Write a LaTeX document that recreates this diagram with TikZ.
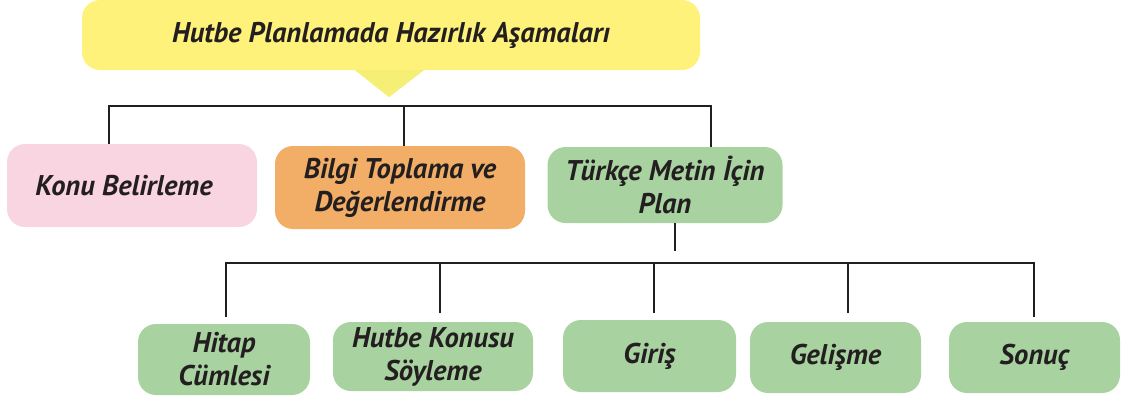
\documentclass[tikz,border=0pt]{standalone}
\usepackage{fontspec}
\setmainfont{PT Sans}
\definecolor{titlecol}{HTML}{FEF27B}
\definecolor{tipcol}{HTML}{F6EF76}
\definecolor{pinkcol}{HTML}{F9D5E1}
\definecolor{orangecol}{HTML}{F2AD66}
\definecolor{greencol}{HTML}{A8D2A0}
\definecolor{wirecol}{HTML}{231F20}
\newcommand{\stagefont}{\fontsize{28.5}{33}\selectfont\bfseries\itshape}
\tikzset{
	stage/.style={rounded corners=18pt, align=center, font=\stagefont, inner sep=0pt, text=wirecol},
	wire/.style={line width=2.8pt, draw=wirecol}
}

\begin{document}
\begin{tikzpicture}[x=1pt,y=-1pt]
		\useasboundingbox (0,0) rectangle (1122,397);
		\draw (391,35) node[stage, fill=titlecol, minimum width=618, minimum height=70](title){Hutbe Planlamada Hazırlık Aşamaları};
		\fill[tipcol] ([xshift=-36pt]title.south) -- ([xshift=33pt]title.south) -- ([xshift=-2pt, yshift=-27pt]title.south) -- cycle;
		\draw (132,185.5) node[stage, fill=pinkcol, minimum width=250, minimum height=83](konu){Konu Belirleme\hspace*{16pt}};
		\draw (400,187.5) node[stage, fill=orangecol, minimum width=250, minimum height=83](bilgi){Bilgi Toplama ve\\Değerlendirme};
		\draw (665,185) node[stage, fill=greencol, minimum width=235, minimum height=76](plan){Türkçe Metin İçin\\Plan};
		\coordinate (busA) at (109,106);
		\coordinate (busB) at (404,106);
		\coordinate (busC) at (711,106);
		\draw[wire] (busA |- konu.north) -- (busA) -- (busC) -- (busC |- plan.north);
		\draw[wire] (busB) -- (busB |- bilgi.north);
		\draw (224,359.5) node[stage, fill=greencol, minimum width=172, minimum height=71](hitap){Hitap\\Cümlesi};
		\draw (433,356.5) node[stage, fill=greencol, minimum width=200, minimum height=69](konusu){Hutbe Konusu\\Söyleme};
		\draw (649.5,356) node[stage, fill=greencol, minimum width=173, minimum height=72](giris){Giriş};
		\draw (835.5,357.5) node[stage, fill=greencol, minimum width=171, minimum height=71](gelisme){Gelişme};
		\draw (1034.5,357.5) node[stage, fill=greencol, minimum width=171, minimum height=71](sonuc){Sonuç};
		\coordinate (stem) at (675,251);
		\coordinate (subA) at (226,263);
		\coordinate (subB) at (440,263);
		\coordinate (subC) at (654,263);
		\coordinate (subD) at (848,263);
		\coordinate (subE) at (1034,263);
		\draw[wire] (plan.south -| stem) -- (stem);
		\draw[wire] ([yshift=7pt]subA |- hitap.north) -- (subA) -- (subE) -- ([yshift=5pt]subE |- sonuc.north);
		\draw[wire] (subB) -- ([yshift=9pt]subB |- konusu.north);
		\draw[wire] (subC) -- ([yshift=7pt]subC |- giris.north);
		\draw[wire] (subD) -- ([yshift=9pt]subD |- gelisme.north);
	\end{tikzpicture}
\end{document}
